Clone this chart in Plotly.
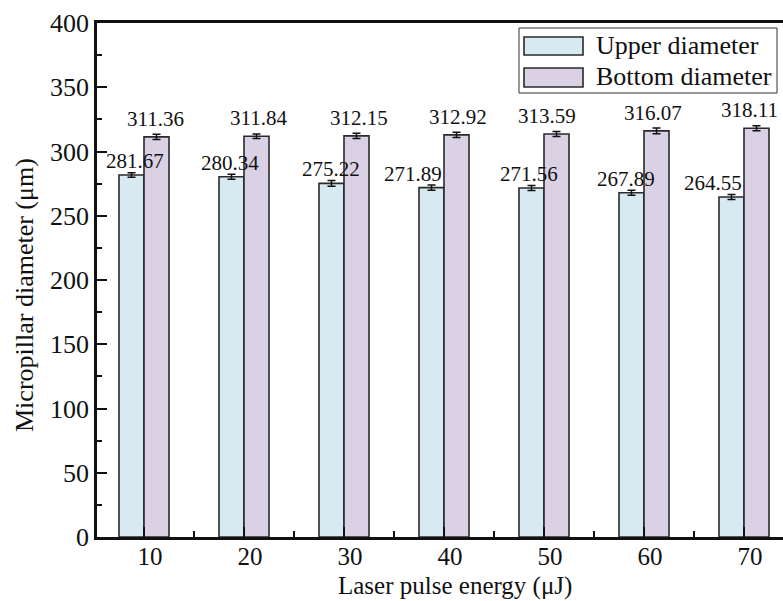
import plotly.graph_objects as go

energy = [10, 20, 30, 40, 50, 60, 70]
upper = [281.67, 280.34, 275.22, 271.89, 271.56, 267.89, 264.55]
bottom = [311.36, 311.84, 312.15, 312.92, 313.59, 316.07, 318.11]
upper_err = [1.8, 2.0, 2.2, 2.0, 1.9, 2.0, 2.0]
bottom_err = [2.0, 1.8, 2.0, 2.1, 1.9, 2.2, 2.0]
y_ticks = [0, 50, 100, 150, 200, 250, 300, 350, 400]

# label horizontal nudges (px), as placed in the reference
upper_shift = [3, -2, -1, -19, -3, -6, -19]
bottom_shift = [-1, 2, 2, 1, -10, -4, -7]

FONT = "Liberation Serif, Times New Roman, serif"
C_UP = "#d7eaf1"
C_BOT = "#dad2e4"
EDGE = "#2a2a2a"

W, H = 783, 601
L, R, T, B = 97, 0, 23, 64
pw, ph = W - L - R, H - T - B


def px(x):
    return (x - L) / pw


def py(y):
    return (H - B - y) / ph


fig = go.Figure()
fig.add_trace(go.Bar(
    x=energy, y=upper, name="Upper diameter",
    marker=dict(color=C_UP, line=dict(color=EDGE, width=1.6)),
    error_y=dict(type="data", array=upper_err, color="#111", thickness=1.5, width=4),
))
fig.add_trace(go.Bar(
    x=energy, y=bottom, name="Bottom diameter",
    marker=dict(color=C_BOT, line=dict(color=EDGE, width=1.6)),
    error_y=dict(type="data", array=bottom_err, color="#111", thickness=1.5, width=4),
))

annots = []
for i, e in enumerate(energy):
    annots.append(dict(x=e, y=upper[i], xref="x", yref="y", text=f"{upper[i]:.2f}",
                       showarrow=False, yanchor="bottom", xanchor="center",
                       xshift=-12.5 + upper_shift[i], yshift=0,
                       font=dict(family=FONT, size=21, color="#111")))
    annots.append(dict(x=e, y=bottom[i], xref="x", yref="y", text=f"{bottom[i]:.2f}",
                       showarrow=False, yanchor="bottom", xanchor="center",
                       xshift=12.5 + bottom_shift[i], yshift=4,
                       font=dict(family=FONT, size=21, color="#111")))

# y-axis title
annots.append(dict(x=px(24), y=py(295), xref="paper", yref="paper",
                   text="Micropillar diameter (\u03bcm)", textangle=-90, showarrow=False,
                   xanchor="center", yanchor="middle",
                   font=dict(family=FONT, size=26, color="#111")))
# x-axis title
annots.append(dict(x=px(455), y=py(586), xref="paper", yref="paper",
                   text="Laser pulse energy (\u03bcJ)", showarrow=False,
                   xanchor="center", yanchor="middle",
                   font=dict(family=FONT, size=25, color="#111")))

# custom legend
shapes = [
    dict(type="rect", xref="paper", yref="paper", x0=px(519), x1=px(777), y0=py(93), y1=py(28),
         line=dict(color="#333", width=1), fillcolor="white", layer="above"),
    dict(type="rect", xref="paper", yref="paper", x0=px(524), x1=px(583), y0=py(55), y1=py(37),
         line=dict(color=EDGE, width=1.6), fillcolor=C_UP, layer="above"),
    dict(type="rect", xref="paper", yref="paper", x0=px(524), x1=px(583), y0=py(87), y1=py(68),
         line=dict(color=EDGE, width=1.6), fillcolor=C_BOT, layer="above"),
]
for name, yc in [("Upper diameter", 46), ("Bottom diameter", 77)]:
    annots.append(dict(x=px(594), y=py(yc), xref="paper", yref="paper", text=name,
                       showarrow=False, xanchor="left", yanchor="middle",
                       font=dict(family=FONT, size=26, color="#111")))

x0 = 10 - (144 - L) / 10.0
x1 = x0 + pw / 10.0

fig.update_layout(
    width=W, height=H,
    margin=dict(l=L, r=R, t=T, b=B, pad=0),
    paper_bgcolor="white", plot_bgcolor="white",
    barmode="group", bargap=0.5, bargroupgap=0,
    showlegend=False,
    font=dict(family=FONT, size=25, color="#111"),
    annotations=annots, shapes=shapes,
    xaxis=dict(
        range=[x0, x1], tickmode="array", tickvals=energy, ticktext=[str(e) for e in energy],
        showline=True, linecolor="#111", linewidth=2.5, mirror=True,
        ticks="inside", ticklen=10, tickwidth=2, tickcolor="#111",
        minor=dict(tickmode="linear", tick0=15, dtick=10, ticks="inside", ticklen=6,
                   tickwidth=2, tickcolor="#111", showgrid=False),
        showgrid=False, zeroline=False,
        ticklabelshift=6, ticklabelstandoff=-5,
        tickfont=dict(family=FONT, size=25, color="#111"),
    ),
    yaxis=dict(
        range=[0, 400], tickvals=y_ticks,
        showline=True, linecolor="#111", linewidth=2.5,
        ticks="inside", ticklen=10, tickwidth=2, tickcolor="#111",
        minor=dict(ticks="inside", ticklen=5, tickwidth=2, tickcolor="#111", dtick=25),
        showgrid=False, zeroline=False,
        tickfont=dict(family=FONT, size=26, color="#111"),
        ticklabelstandoff=0,
    ),
)

fig.write_html("out.html")
